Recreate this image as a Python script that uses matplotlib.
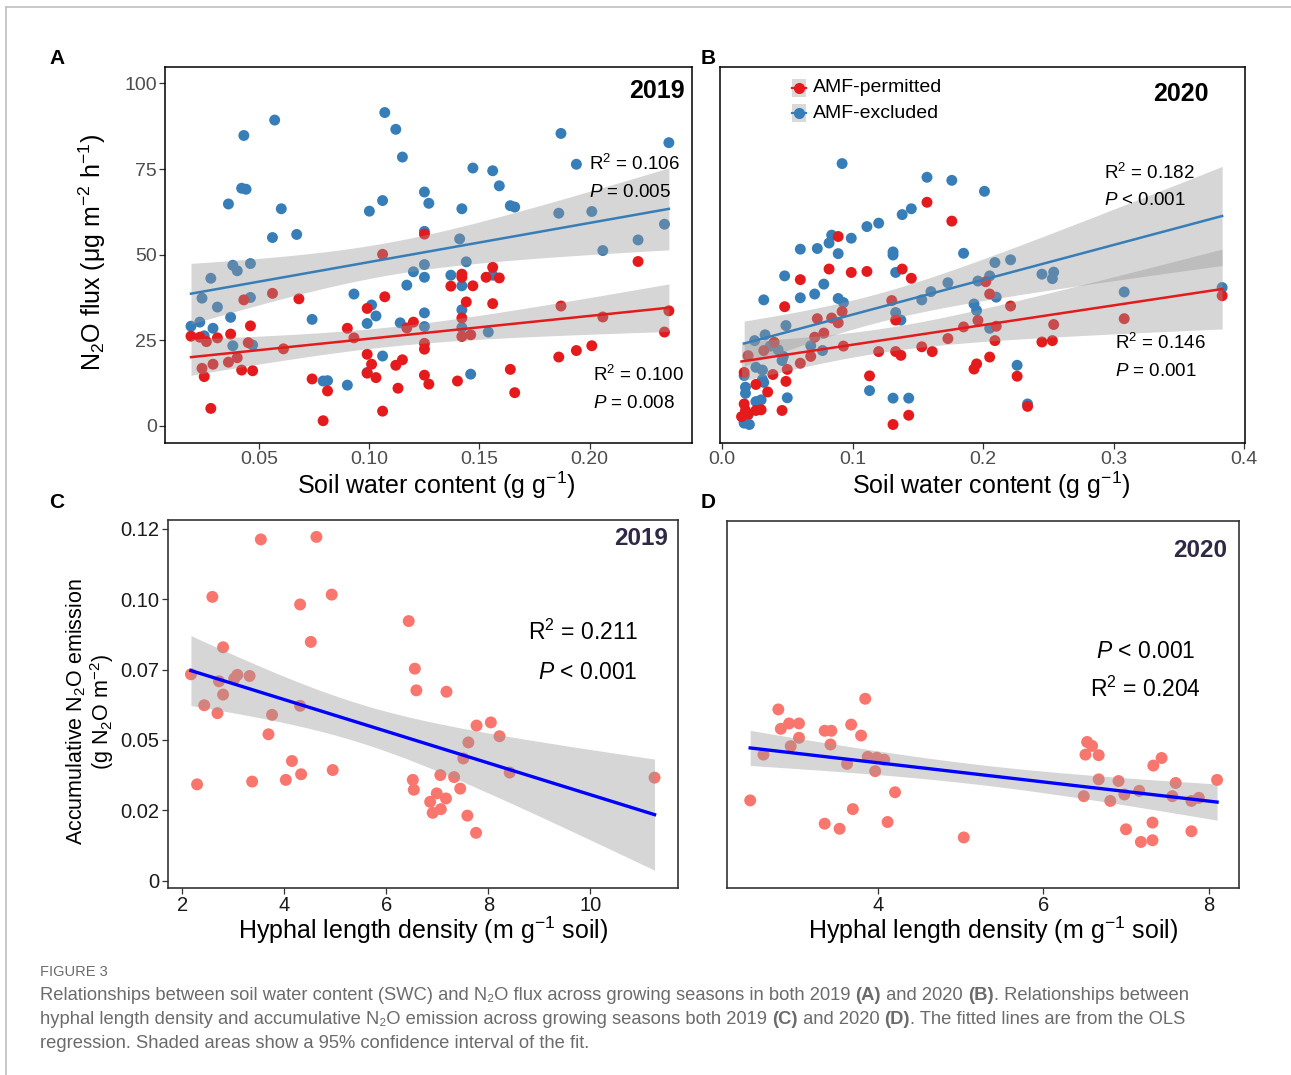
import numpy as np
import matplotlib
matplotlib.use('Agg')
import matplotlib.pyplot as plt
from matplotlib.patches import Rectangle
from matplotlib.lines import Line2D

plt.rcParams['font.family'] = ['Liberation Sans', 'DejaVu Sans']
plt.rcParams['mathtext.fontset'] = 'custom'
plt.rcParams['mathtext.rm'] = 'Liberation Sans'
plt.rcParams['mathtext.it'] = 'Liberation Sans:italic'
plt.rcParams['mathtext.bf'] = 'Liberation Sans:bold'

# ---- A: 2019, soil water content vs N2O flux ----
a_blue_x = [0.057, 0.107, 0.112, 0.043, 0.115, 0.187, 0.236, 0.194, 0.042, 0.044,
            0.147, 0.156, 0.159, 0.036, 0.060, 0.100, 0.106, 0.125, 0.127, 0.142,
            0.164, 0.166, 0.056, 0.067, 0.125, 0.186, 0.201, 0.234, 0.141, 0.222,
            0.206, 0.038, 0.040, 0.046, 0.028, 0.125, 0.144, 0.120, 0.137, 0.125,
            0.117, 0.142, 0.156, 0.093, 0.024, 0.046, 0.031, 0.101, 0.103, 0.142,
            0.074, 0.037, 0.125, 0.114, 0.099, 0.019, 0.023, 0.029, 0.025, 0.125,
            0.142, 0.154, 0.047, 0.038, 0.106, 0.099, 0.079, 0.081, 0.090, 0.146]
a_blue_y = [89.3, 91.5, 86.6, 84.8, 78.5, 85.4, 82.7, 76.4, 69.4, 69.1,
            75.3, 74.5, 70.1, 64.8, 63.4, 62.7, 65.8, 68.3, 65.0, 63.4,
            64.3, 63.9, 55.0, 55.9, 56.8, 62.1, 62.6, 58.9, 54.6, 54.3,
            51.2, 46.9, 45.3, 47.4, 43.1, 47.1, 47.9, 45.0, 44.0, 43.4,
            41.1, 40.9, 44.0, 38.5, 37.3, 37.5, 34.7, 35.3, 32.1, 33.9,
            31.1, 31.7, 33.0, 30.1, 29.9, 29.1, 30.3, 28.5, 26.3, 29.0,
            28.7, 27.4, 23.6, 23.4, 20.4, 15.6, 13.1, 13.2, 11.9, 15.1]
a_red_x = [0.125, 0.106, 0.056, 0.068, 0.043, 0.107, 0.099, 0.142, 0.142, 0.156,
           0.153, 0.159, 0.137, 0.147, 0.144, 0.156, 0.187, 0.222, 0.236, 0.206,
           0.234, 0.120, 0.117, 0.142, 0.142, 0.146, 0.090, 0.093, 0.019, 0.023,
           0.026, 0.031, 0.037, 0.046, 0.045, 0.061, 0.125, 0.125, 0.099, 0.101,
           0.103, 0.112, 0.115, 0.186, 0.194, 0.201, 0.024, 0.029, 0.036, 0.040,
           0.042, 0.047, 0.025, 0.074, 0.081, 0.113, 0.125, 0.127, 0.140, 0.164,
           0.166, 0.028, 0.079, 0.106, 0.099]
a_red_y = [56.0, 50.1, 38.7, 37.1, 36.8, 37.7, 34.3, 44.3, 43.4, 46.3,
           43.4, 43.2, 40.8, 40.9, 36.2, 35.7, 35.0, 48.0, 33.6, 31.8,
           27.4, 30.3, 28.6, 31.5, 26.1, 26.6, 28.5, 25.7, 26.2, 25.9,
           24.6, 25.7, 26.8, 29.2, 24.3, 22.5, 24.1, 22.4, 20.9, 18.0,
           14.1, 17.7, 19.3, 20.1, 22.0, 23.4, 16.8, 18.0, 18.6, 19.9,
           16.3, 16.1, 14.4, 13.7, 10.2, 11.0, 14.8, 12.2, 13.1, 16.5,
           9.7, 5.1, 1.5, 4.3, 15.4]

# ---- B: 2020 ----
b_blue_x = [0.092, 0.157, 0.176, 0.201, 0.145, 0.138, 0.120, 0.111, 0.099, 0.084,
            0.082, 0.089, 0.073, 0.060, 0.131, 0.131, 0.185, 0.048, 0.078, 0.071,
            0.060, 0.032, 0.089, 0.093, 0.133, 0.209, 0.221, 0.245, 0.254, 0.253,
            0.196, 0.173, 0.205, 0.160, 0.153, 0.210, 0.193, 0.195, 0.308, 0.383,
            0.133, 0.137, 0.049, 0.033, 0.025, 0.037, 0.043, 0.047, 0.046, 0.205,
            0.068, 0.077, 0.026, 0.031, 0.017, 0.031, 0.032, 0.018, 0.018, 0.026,
            0.030, 0.050, 0.113, 0.131, 0.143, 0.226, 0.234, 0.020, 0.017, 0.021,
            0.017]
b_blue_y = [76.6, 72.6, 71.7, 68.5, 63.4, 61.7, 59.2, 58.2, 54.8, 55.7,
            53.4, 50.3, 51.8, 51.6, 50.8, 49.9, 50.4, 43.8, 41.4, 38.5,
            37.4, 36.8, 37.2, 36.0, 44.8, 47.7, 48.5, 44.3, 44.9, 43.0,
            42.3, 41.8, 43.8, 39.2, 36.8, 37.6, 35.6, 33.7, 39.1, 40.4,
            33.1, 30.9, 29.3, 26.6, 24.9, 23.3, 22.2, 20.3, 19.1, 28.5,
            23.4, 22.0, 17.1, 16.3, 14.7, 13.5, 12.7, 11.3, 9.5, 7.1,
            7.6, 8.2, 10.3, 8.1, 8.1, 17.7, 6.4, 3.2, 0.8, 0.4,
            1.3]
b_red_x = [0.157, 0.176, 0.089, 0.082, 0.099, 0.111, 0.138, 0.145, 0.060, 0.048,
           0.202, 0.205, 0.221, 0.130, 0.133, 0.092, 0.084, 0.073, 0.089, 0.071,
           0.078, 0.093, 0.040, 0.032, 0.020, 0.068, 0.060, 0.050, 0.039, 0.049,
           0.026, 0.035, 0.017, 0.017, 0.018, 0.026, 0.030, 0.046, 0.015, 0.020,
           0.120, 0.133, 0.137, 0.153, 0.161, 0.173, 0.185, 0.196, 0.210, 0.209,
           0.205, 0.195, 0.193, 0.113, 0.131, 0.143, 0.226, 0.234, 0.245, 0.253,
           0.254, 0.308, 0.383]
b_red_y = [65.3, 59.8, 55.3, 45.8, 44.8, 45.1, 45.8, 43.1, 42.7, 34.8,
           42.1, 38.5, 35.0, 36.6, 30.9, 33.4, 31.5, 31.3, 30.1, 25.9,
           27.1, 23.3, 24.4, 22.0, 20.5, 20.3, 18.3, 16.5, 15.0, 13.0,
           12.1, 9.9, 15.6, 6.4, 4.5, 4.5, 4.7, 4.5, 2.7, 3.5,
           21.7, 21.7, 20.6, 23.1, 21.7, 25.5, 28.9, 30.8, 29.1, 24.9,
           20.1, 18.1, 16.6, 14.6, 0.4, 3.1, 14.5, 5.7, 24.5, 24.9,
           29.6, 31.3, 38.0]

# ---- C: 2019, hyphal length density vs accumulative N2O ----
c_x = [3.54, 4.63, 2.59, 4.31, 4.93, 6.44, 2.80, 4.52, 2.17, 2.72,
       3.08, 3.02, 3.32, 2.80, 2.43, 2.69, 4.31, 3.76, 3.69, 4.15,
       4.33, 4.03, 3.37, 2.29, 4.95, 6.56, 6.59, 7.18, 7.77, 8.05,
       8.22, 7.61, 7.51, 8.42, 6.52, 6.54, 7.06, 7.33, 7.45, 6.99,
       7.17, 6.86, 7.07, 6.91, 7.59, 7.76, 11.26]
c_y = [0.1212, 0.1221, 0.1008, 0.0981, 0.1016, 0.0922, 0.0829, 0.0848, 0.0733, 0.0708,
       0.0731, 0.0718, 0.0727, 0.0661, 0.0623, 0.0595, 0.0621, 0.0589, 0.0520, 0.0425,
       0.0378, 0.0358, 0.0352, 0.0342, 0.0393, 0.0753, 0.0676, 0.0671, 0.0551, 0.0562,
       0.0513, 0.0491, 0.0434, 0.0384, 0.0358, 0.0323, 0.0375, 0.0368, 0.0327, 0.0310,
       0.0292, 0.0280, 0.0254, 0.0241, 0.0231, 0.0170, 0.0366]

# ---- D: 2020 ----
d_x = [2.46, 2.62, 2.80, 2.83, 2.93, 3.05, 3.05, 2.95, 3.36, 3.44,
       3.43, 3.68, 3.80, 3.85, 3.63, 3.88, 3.99, 4.08, 3.97, 4.21,
       3.70, 3.36, 3.54, 4.12, 5.04, 6.53, 6.59, 6.51, 6.67, 6.67,
       6.91, 6.49, 6.81, 6.98, 7.16, 7.33, 7.43, 7.60, 7.56, 7.79,
       7.88, 8.10, 7.00, 7.32, 7.18, 7.32, 7.79]
d_y = [0.0286, 0.0449, 0.0610, 0.0541, 0.0560, 0.0560, 0.0509, 0.0479, 0.0534, 0.0534,
       0.0485, 0.0556, 0.0517, 0.0648, 0.0416, 0.0441, 0.0438, 0.0431, 0.0390, 0.0315,
       0.0255, 0.0203, 0.0185, 0.0209, 0.0154, 0.0494, 0.0480, 0.0449, 0.0447, 0.0361,
       0.0355, 0.0301, 0.0284, 0.0307, 0.0320, 0.0410, 0.0437, 0.0348, 0.0301, 0.0284,
       0.0295, 0.0359, 0.0183, 0.0207, 0.0138, 0.0144, 0.0176]

c_yticks = [0, 0.025, 0.05, 0.075, 0.10, 0.125]
c_yticklabels = ['0', '0.02', '0.05', '0.07', '0.10', '0.12']
legend_labels = ['AMF-permitted', 'AMF-excluded']

RED = '#E41A1C'
BLUE = '#377EB8'
SALMON = '#F8766D'
W, H = 1291, 1075


def t_crit(df):
    # 95% two-sided t quantile (Cornish-Fisher expansion)
    z = 1.959964
    g1 = (z**3 + z) / 4
    g2 = (5 * z**5 + 16 * z**3 + 3 * z) / 96
    return z + g1 / df + g2 / df**2


def ols_band(x, y, n_pts=120):
    x = np.asarray(x, float)
    y = np.asarray(y, float)
    n = len(x)
    b, a = np.polyfit(x, y, 1)
    xs = np.linspace(x.min(), x.max(), n_pts)
    yhat = a + b * xs
    s = np.sqrt(np.sum((y - (a + b * x))**2) / (n - 2))
    sxx = np.sum((x - x.mean())**2)
    se = s * np.sqrt(1 / n + (xs - x.mean())**2 / sxx)
    t = t_crit(n - 2)
    return xs, yhat, yhat - t * se, yhat + t * se


def draw_group(ax, x, y, col, line_col, s, lw):
    ax.scatter(x, y, s=s, color=col, edgecolors='none', zorder=2)
    xs, yh, lo, hi = ols_band(x, y)
    ax.fill_between(xs, lo, hi, color='#999999', alpha=0.4, lw=0, zorder=3)
    ax.plot(xs, yh, color=line_col, lw=lw, zorder=4)


def axes_px(l, r, t, b):
    return [l / W, 1 - b / H, (r - l) / W, (b - t) / H]


fig = plt.figure(figsize=(W / 100, H / 100), dpi=100)

axA = fig.add_axes(axes_px(165, 692, 67, 443))
axB = fig.add_axes(axes_px(720, 1245, 67, 443))
axC = fig.add_axes(axes_px(168, 678, 520, 888))
axD = fig.add_axes(axes_px(727, 1239, 521, 888))

# A
draw_group(axA, a_blue_x, a_blue_y, BLUE, BLUE, 62, 1.8)
draw_group(axA, a_red_x, a_red_y, RED, RED, 62, 1.8)
axA.set_xlim(0.0072, 0.2465)
axA.set_ylim(-5.0, 104.8)
axA.set_xticks([0.05, 0.10, 0.15, 0.20])
axA.set_xticklabels(['0.05', '0.10', '0.15', '0.20'])
axA.set_yticks([0, 25, 50, 75, 100])

# B
draw_group(axB, b_blue_x, b_blue_y, BLUE, BLUE, 62, 1.8)
draw_group(axB, b_red_x, b_red_y, RED, RED, 62, 1.8)
axB.set_xlim(-0.0015, 0.4005)
axB.set_ylim(-5.0, 104.8)
axB.set_xticks([0.0, 0.1, 0.2, 0.3, 0.4])
axB.set_xticklabels(['0.0', '0.1', '0.2', '0.3', '0.4'])
axB.set_yticks([])

# C
draw_group(axC, c_x, c_y, SALMON, '#0000FF', 74, 2.4)
axC.set_xlim(1.72, 11.72)
axC.set_ylim(-0.0026, 0.1281)
axC.set_xticks([2, 4, 6, 8, 10])
axC.set_yticks(c_yticks)
axC.set_yticklabels(c_yticklabels)

# D
draw_group(axD, d_x, d_y, SALMON, '#0000FF', 74, 2.4)
axD.set_xlim(2.18, 8.365)
axD.set_ylim(-0.0026, 0.1281)
axD.set_xticks([4, 6, 8])
axD.set_yticks([])

for ax in (axA, axB):
    for sp in ax.spines.values():
        sp.set_color('black')
        sp.set_linewidth(1.1)
    ax.tick_params(direction='out', length=4, width=0.9, color='#333333',
                   labelsize=14, labelcolor='#4D4D4D', pad=2)
for ax in (axC, axD):
    for sp in ax.spines.values():
        sp.set_color('#333333')
        sp.set_linewidth(1.2)
    ax.tick_params(direction='out', length=4, width=0.9, color='#333333',
                   labelsize=14.5, labelcolor='#1A1A1A', pad=2)

# in-panel text
stat = dict(fontsize=13.5, color='black')
axA.text(0.987, 0.936, '2019', transform=axA.transAxes, ha='right', va='center',
         fontsize=18, fontweight='bold')
axA.text(0.804, 0.743, r'R$^2$ = 0.106', transform=axA.transAxes, ha='left', va='center', **stat)
axA.text(0.804, 0.665, r'$P$ = 0.005', transform=axA.transAxes, ha='left', va='center', **stat)
axA.text(0.813, 0.181, r'R$^2$ = 0.100', transform=axA.transAxes, ha='left', va='center', **stat)
axA.text(0.813, 0.104, r'$P$ = 0.008', transform=axA.transAxes, ha='left', va='center', **stat)

axB.text(0.931, 0.927, '2020', transform=axB.transAxes, ha='right', va='center',
         fontsize=18, fontweight='bold')
axB.text(0.732, 0.719, r'R$^2$ = 0.182', transform=axB.transAxes, ha='left', va='center', **stat)
axB.text(0.732, 0.644, r'$P$ < 0.001', transform=axB.transAxes, ha='left', va='center', **stat)
axB.text(0.753, 0.267, r'R$^2$ = 0.146', transform=axB.transAxes, ha='left', va='center', **stat)
axB.text(0.753, 0.190, r'$P$ = 0.001', transform=axB.transAxes, ha='left', va='center', **stat)

# legend drawn as ggplot-style keys (grey box, dot and line)
for i, (lab, col) in enumerate(zip(legend_labels, [RED, BLUE])):
    cy = 88 + i * 25
    kx0, kx1 = 792, 806
    axB.add_patch(Rectangle((kx0 / W, 1 - (cy + 8.5) / H), (kx1 - kx0) / W, 17 / H,
                            transform=fig.transFigure, facecolor='#D9D9D9',
                            edgecolor='none', zorder=5, clip_on=False))
    axB.add_line(Line2D([kx0 / W, kx1 / W], [1 - cy / H] * 2, transform=fig.transFigure,
                        color=col, lw=1.6, zorder=6, clip_on=False))
    axB.add_line(Line2D([(kx0 + kx1) / 2 / W], [1 - cy / H], transform=fig.transFigure,
                        color=col, marker='o', markersize=8, markeredgewidth=0,
                        lw=0, zorder=7, clip_on=False))
    fig.text(813 / W, 1 - cy / H, lab, fontsize=14, ha='left', va='center')

purple = '#2F2945'
axC.text(0.981, 0.951, '2019', transform=axC.transAxes, ha='right', va='center',
         fontsize=17.5, fontweight='bold', color=purple)
axC.text(0.922, 0.696, r'R$^2$ = 0.211', transform=axC.transAxes, ha='right', va='center', fontsize=16.5)
axC.text(0.920, 0.586, r'$P$ < 0.001', transform=axC.transAxes, ha='right', va='center', fontsize=16.5)

axD.text(0.977, 0.919, '2020', transform=axD.transAxes, ha='right', va='center',
         fontsize=17.5, fontweight='bold', color=purple)
axD.text(0.818, 0.644, r'$P$ < 0.001', transform=axD.transAxes, ha='center', va='center', fontsize=16.5)
axD.text(0.818, 0.542, r'R$^2$ = 0.204', transform=axD.transAxes, ha='center', va='center', fontsize=16.5)


# axis titles
def ftxt(x, y, s, **kw):
    fig.text(x / W, 1 - y / H, s, ha='center', va='center', **kw)


ftxt(92, 253, 'N$_2$O flux (\u03bcg m$^{-2}$ h$^{-1}$)', rotation=90, fontsize=18)
ftxt(436, 485, r'Soil water content (g g$^{-1}$)', fontsize=18)
ftxt(991, 485, r'Soil water content (g g$^{-1}$)', fontsize=18)
ftxt(90, 712, 'Accumulative N$_2$O emission\n(g N$_2$O m$^{-2}$)', rotation=90,
     fontsize=15.5, linespacing=1.0, multialignment='center')
ftxt(423, 930, r'Hyphal length density (m g$^{-1}$ soil)', fontsize=18)
ftxt(993, 930, r'Hyphal length density (m g$^{-1}$ soil)', fontsize=18)

for lab, x, y in [('A', 57, 58), ('B', 708, 58), ('C', 57, 502), ('D', 708, 502)]:
    ftxt(x, y, lab, fontsize=15, fontweight='bold')

# outer frame
fig.add_artist(Line2D([6 / W, 1], [1 - 7 / H, 1 - 7 / H], transform=fig.transFigure,
                      color='#BFBFBF', lw=1.2))
fig.add_artist(Line2D([6 / W, 6 / W], [0, 1 - 7 / H], transform=fig.transFigure,
                      color='#BFBFBF', lw=1.2))

# caption with bold panel letters
cap_font = ['Liberation Sans', 'DejaVu Sans']
cap_col = '#6B6B6B'
cap_size = 13.2
renderer = fig.canvas.get_renderer()


def text_w(s, weight, size):
    t1 = fig.text(0, 0, '|' + s + '|', fontsize=size, fontweight=weight, family=cap_font)
    t2 = fig.text(0, 0, '||', fontsize=size, fontweight=weight, family=cap_font)
    w = t1.get_window_extent(renderer).width - t2.get_window_extent(renderer).width
    t1.remove()
    t2.remove()
    return w


def rich_line(x, y, parts, size=cap_size):
    for s, bold in parts:
        weight = 'bold' if bold else 'normal'
        fig.text(x / W, 1 - y / H, s, fontsize=size, fontweight=weight, family=cap_font,
                 color=cap_col, ha='left', va='center')
        x += text_w(s, weight, size)


fig.text(40 / W, 1 - 972 / H, 'FIGURE 3', fontsize=10.5, family=cap_font, color=cap_col,
         ha='left', va='center')
rich_line(40, 996, [('Relationships between soil water content (SWC) and N\u2082O flux across growing seasons in both 2019 ', False),
                    ('(A)', True), (' and 2020 ', False), ('(B)', True), ('. Relationships between', False)])
rich_line(40, 1020, [('hyphal length density and accumulative N\u2082O emission across growing seasons both 2019 ', False),
                     ('(C)', True), (' and 2020 ', False), ('(D)', True), ('. The fitted lines are from the OLS', False)])
rich_line(40, 1044, [('regression. Shaded areas show a 95% confidence interval of the fit.', False)])

fig.savefig('out.png', dpi=100)
